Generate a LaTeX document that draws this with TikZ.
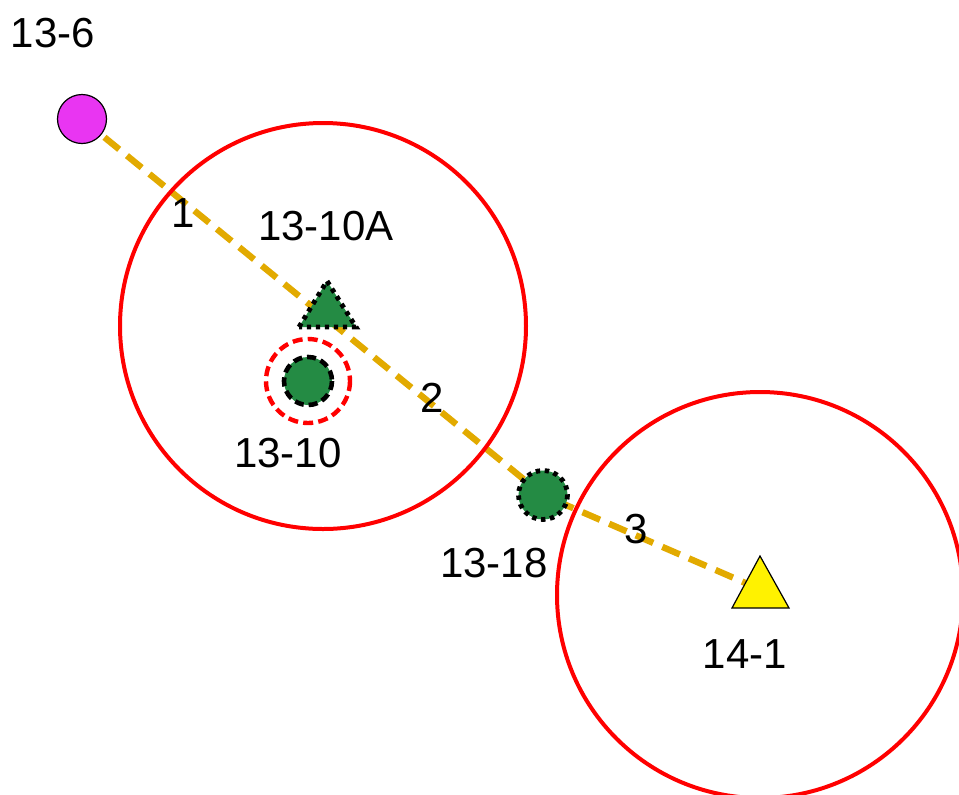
\documentclass[tikz,border=0pt]{standalone}
\usepackage{fontspec}
\setmainfont{Liberation Sans}
\definecolor{gold}{RGB}{226,170,0}
\definecolor{leaf}{RGB}{36,139,68}
\definecolor{mag}{RGB}{233,53,242}
\definecolor{redc}{RGB}{255,0,0}
\begin{document}
\begin{tikzpicture}[x=0.5pt,y=-0.5pt,
  lbl/.style={font=\fontsize{21pt}{24pt}\selectfont,inner sep=0pt,anchor=base},
  route/.style={draw=gold,line width=3.2pt,dash pattern=on 9.5pt off 5pt},
  zone/.style={draw=redc,line width=2pt},
  dotb/.style={draw=black,line width=2.4pt,dash pattern=on 2.2pt off 2.3pt},
]
\useasboundingbox (0,0) rectangle (959,794);
\coordinate (p6) at (82,119);
\coordinate (p10a) at (327,311);
\coordinate (p10) at (308,381);
\coordinate (p18) at (543,495);
\coordinate (p141) at (757,588);
% route
\draw[route] (p6) -- (p18) -- (p141);
% zones
\draw[zone] (323,326) circle[radius=203];
\draw[zone] (760,595) circle[radius=203];
% 13-6
\node[circle,fill=mag,draw=black,line width=0.6pt,minimum size=24.5pt,inner sep=0pt] (n6) at (p6) {};
% 13-10A triangle
\filldraw[fill=leaf,dotb] (299,327) -- (327,281) -- (356,327) -- cycle;
% 13-10
\draw[draw=redc,line width=2.2pt,dash pattern=on 5pt off 2.6pt] (p10) circle[radius=42];
\filldraw[fill=leaf,draw=black,line width=2.3pt,dash pattern=on 4.5pt off 2.5pt] (p10) circle[radius=24];
% 13-18
\filldraw[fill=leaf,dotb] (p18) circle[radius=24.5];
% 14-1
\filldraw[fill=yellow,draw=black,line width=0.6pt] (732,608) -- (760,556) -- (789,608) -- cycle;
% labels
\node[lbl] (t6) at (53,47) {13-6};
\node[lbl] (t1) at (183,227) {1};
\node[lbl] (t10a) at (326,240) {13-10A};
\node[lbl] (t2) at (432,412) {2};
\node[lbl] (t10) at (288,467) {13-10};
\node[lbl] (t18) at (494,577) {13-18};
\node[lbl] (t3) at (636,543) {3};
\node[lbl] (t141) at (745,668) {14-1};
\end{tikzpicture}
\end{document}
